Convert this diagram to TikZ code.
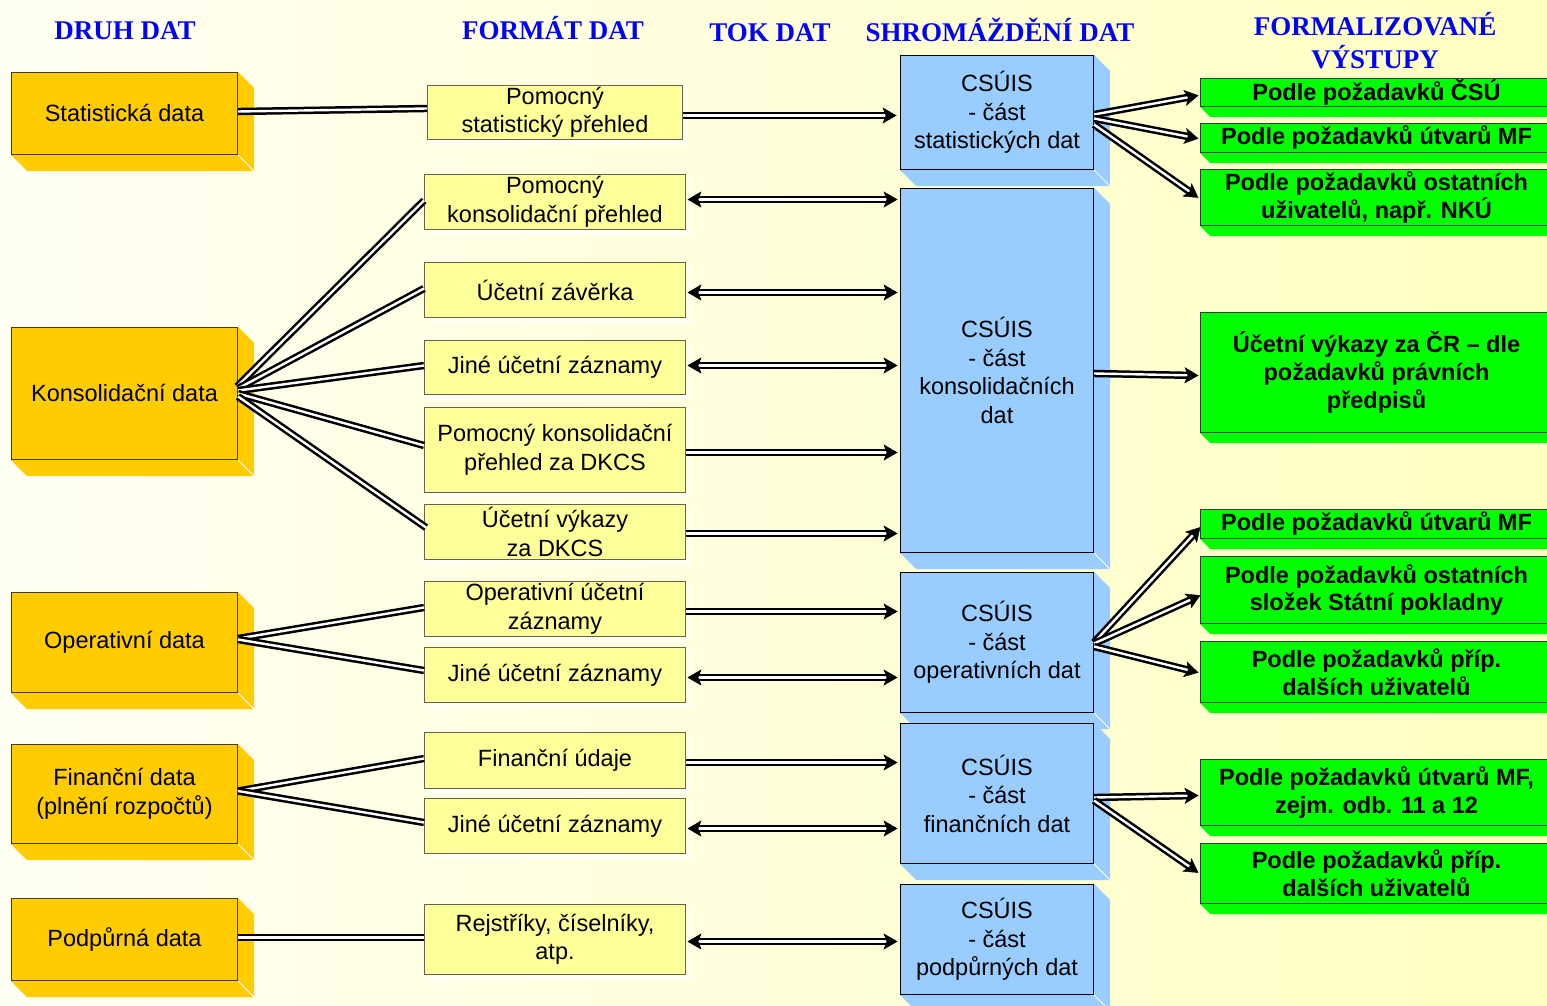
\documentclass[tikz,border=0pt]{standalone}
\usepackage{fontspec}
\setmainfont{Liberation Sans}
\newfontfamily\hdrfont{Liberation Serif}
\usetikzlibrary{calc}
\pgfdeclarelayer{bgl}
\pgfdeclarelayer{extl}
\pgfsetlayers{bgl,extl,main}
\definecolor{gold}{RGB}{255,204,0}
\definecolor{pale}{RGB}{255,255,153}
\definecolor{sky}{RGB}{153,204,255}
\definecolor{lime}{RGB}{0,255,0}
\definecolor{hblue}{RGB}{0,0,255}
\definecolor{bgL}{RGB}{255,255,243}
\definecolor{bgM}{RGB}{255,255,214}
\definecolor{bgR}{RGB}{255,255,194}
\definecolor{edgeG}{RGB}{70,60,20}
\definecolor{edgeP}{RGB}{100,100,80}
\definecolor{edgeL}{RGB}{40,70,40}
\tikzset{
 mybox/.style={line width=1pt, anchor=north west, inner sep=0pt, align=center, font=\fontsize{23.5}{28.5}\selectfont},
 goldbox/.style={mybox, draw=edgeG, fill=gold, minimum width=226pt},
 palebox/.style={mybox, draw=edgeP, fill=pale, minimum width=261pt},
 skybox/.style={mybox, draw=black, fill=sky, minimum width=193pt},
 limebox/.style={mybox, draw=edgeL, fill=lime, minimum width=352pt, font=\fontsize{23.5}{28}\selectfont\bfseries},
 hdr/.style={font=\hdrfont\bfseries\fontsize{27}{32}\selectfont, text=hblue, inner sep=0pt, anchor=base},
 dline/.style={draw=black, line width=2.5pt, double=white, double distance=2.4pt},
 headfill/.style={fill=black, draw=black, line width=0.5pt, line join=miter},
}
\newcommand\extrude[3]{%
 \begin{pgfonlayer}{extl}
 \fill[#3] (#1.north east) -- ++(#2,#2) -- ($(#1.south east)+(#2,#2)$) -- ($(#1.south west)+(#2,#2)$) -- (#1.south west) -- (#1.south east) -- cycle;
 \draw[white, line width=0.8pt] (#1.south east) -- ++(#2,#2);
 \end{pgfonlayer}}
\newcommand\groundshade[1]{%
 \begin{pgfonlayer}{extl}
 \fill[lime] (#1.south west) -- ++(10,10) -- ($(#1.south east)+(10,10)$) -- (#1.south east) -- cycle;
 \end{pgfonlayer}}
% arrow head with tip at #2, coming from #1
\newcommand\headat[2]{\path[headfill] (#2) -- ($(#2)!15pt!30:(#1)$) -- ($(#2)!10pt!(#1)$) -- ($(#2)!15pt!-30:(#1)$) -- cycle;}
\newcommand\uniarrow[2]{\draw[dline, shorten >=9pt] (#1) -- (#2); \headat{#1}{#2}}
\newcommand\biarrow[2]{\draw[dline, shorten >=9pt, shorten <=9pt] (#1) -- (#2); \headat{#1}{#2}\headat{#2}{#1}}
\begin{document}
\begin{tikzpicture}[x=1pt,y=-1pt]
\useasboundingbox (0,0) rectangle (1547,1006);
\clip (0,0) rectangle (1547,1006);
\begin{pgfonlayer}{bgl}
\shade[left color=bgL, middle color=bgM, right color=bgR] (0,0) rectangle (1547,1006);
\end{pgfonlayer}

% headers
\node[hdr] (h1) at (125,40) {DRUH DAT};
\node[hdr] (h2) at (553,40) {FORMÁT DAT};
\node[hdr] (h3) at (770,42) {TOK DAT};
\node[hdr] (h4) at (1000,42) {SHROMÁŽDĚNÍ DAT};
\node[hdr] (h5) at (1375,36) {FORMALIZOVANÉ};
\node[hdr] (h6) at (1375,69) {VÝSTUPY};

% gold boxes
\node[goldbox, minimum height=82pt] (g1) at (11,72) {\raisebox{2pt}{Statistická data}};
\node[goldbox, minimum height=132pt] (g2) at (11,327) {\raisebox{2pt}{Konsolidační data}};
\node[goldbox, minimum height=100pt] (g3) at (11,592) {Operativní data};
\node[goldbox, minimum height=99pt] (g4) at (11,744) {Finanční data\\(plnění rozpočtů)};
\node[goldbox, minimum height=82pt] (g5) at (11,898) {Podpůrná data};
\foreach \n in {g1,g2,g3,g4,g5} {\extrude{\n}{16}{gold}}

% pale boxes
\node[palebox, minimum width=255pt, minimum height=54pt] (y1) at (427,85) {Pomocný\\statistický přehled};
\node[palebox, minimum height=55pt] (y2) at (424,174) {Pomocný\\konsolidační přehled};
\node[palebox, minimum height=55pt] (y3) at (424,262) {Účetní závěrka};
\node[palebox, minimum height=54pt] (y4) at (424,340) {Jiné účetní záznamy};
\node[palebox, minimum height=85pt] (y5) at (424,407) {Pomocný konsolidační\\přehled za DKCS};
\node[palebox, minimum height=55pt] (y6) at (424,504) {Účetní výkazy\\za DKCS};
\node[palebox, minimum height=55pt] (y7) at (424,581) {Operativní účetní\\záznamy};
\node[palebox, minimum height=55pt] (y8) at (424,647) {Jiné účetní záznamy};
\node[palebox, minimum height=56pt] (y9) at (424,732) {Finanční údaje};
\node[palebox, minimum height=55pt] (y10) at (424,798) {Jiné účetní záznamy};
\node[palebox, minimum height=70pt] (y11) at (424,904) {Rejstříky, číselníky,\\atp.};
\foreach \n in {y1,y2,y3,y4,y5,y6,y7,y8,y9,y10,y11} {\extrude{\n}{5}{white, opacity=0.55}}

% sky boxes
\node[skybox, minimum height=114pt] (s1) at (900,55) {CSÚIS\\- část\\statistických dat};
\node[skybox, minimum height=364pt] (s2) at (900,188) {CSÚIS\\- část\\konsolidačních\\dat};
\node[skybox, minimum height=140pt] (s3) at (900,572) {CSÚIS\\- část\\operativních dat};
\node[skybox, minimum height=140pt] (s4) at (900,723) {CSÚIS\\- část\\finančních dat};
\node[skybox, minimum height=110pt] (s5) at (900,884) {CSÚIS\\- část\\podpůrných dat};
\foreach \n in {s1,s2,s3,s4,s5} {\extrude{\n}{16}{sky}}

% lime boxes
\node[limebox, minimum height=28pt] (e1) at (1200,78) {Podle požadavků ČSÚ};
\node[limebox, minimum height=29pt] (e2) at (1200,123) {Podle požadavků útvarů MF};
\node[limebox, minimum height=56pt] (e3) at (1200,169) {Podle požadavků ostatních\\uživatelů, např. NKÚ};
\node[limebox, minimum height=120pt] (e4) at (1200,312) {Účetní výkazy za ČR – dle\\požadavků právních\\předpisů};
\node[limebox, minimum height=29pt] (e5) at (1200,509) {Podle požadavků útvarů MF};
\node[limebox, minimum height=67pt] (e6) at (1200,556) {Podle požadavků ostatních\\složek Státní pokladny};
\node[limebox, minimum height=61pt] (e7) at (1200,641) {Podle požadavků příp.\\dalších uživatelů};
\node[limebox, minimum height=66pt] (e8) at (1200,759) {Podle požadavků útvarů MF,\\zejm. odb. 11 a 12};
\node[limebox, minimum height=60pt] (e9) at (1200,843) {Podle požadavků příp.\\dalších uživatelů};
\foreach \n in {e1,e2,e3,e4,e5,e6,e7,e8,e9} {\groundshade{\n}}

% data kind -> data format (plain double lines)
\draw[dline] ($(g1.east)+(0,-2)$) -- ($(y1.west)+(0,-4)$);
\draw[dline] ($(g2.east)+(-1,-7)$) -- ($(y2.west)+(0,-1.5)$);
\draw[dline] ($(g2.east)+(0,-5)$) -- ($(y3.west)+(0,-1.5)$);
\draw[dline] ($(g2.east)+(0,-3)$) -- ($(y4.west)+(0,-2)$);
\draw[dline] ($(g2.east)+(0,0)$) -- ($(y5.west)+(0,-4.5)$);
\draw[dline] ($(g2.east)+(0,3)$) -- ($(y6.west)+(2,-4.5)$);
\draw[dline] ($(g3.east)+(0,-4)$) -- ($(y7.west)+(0,-1.5)$);
\draw[dline] ($(g3.east)+(0,-3)$) -- ($(y8.west)+(0,-4.5)$);
\draw[dline] ($(g4.east)+(0,-3)$) -- ($(y9.west)+(0,-2)$);
\draw[dline] ($(g4.east)+(0,-3)$) -- ($(y10.west)+(0,-3.5)$);
\draw[dline] ($(g5.east)+(0,-2)$) -- ($(y11.west)+(0,-2)$);

% data format -> collection
\coordinate (p1) at ($(y1.east)+(0,3)$);      \coordinate (q1) at ($(s1.west|-y1.east)+(-4,3)$);
\coordinate (p2) at ($(y2.east)+(2,-2.5)$);   \coordinate (q2) at ($(s2.west|-y2.east)+(-3,-2.5)$);
\coordinate (p3) at ($(y3.east)+(2,2.5)$);    \coordinate (q3) at ($(s2.west|-y3.east)+(-3,2.5)$);
\coordinate (p4) at ($(y4.east)+(2,-2)$);     \coordinate (q4) at ($(s2.west|-y4.east)+(-3,-2)$);
\coordinate (p5) at ($(y5.east)+(0,2.5)$);    \coordinate (q5) at ($(s2.west|-y5.east)+(-3,2.5)$);
\coordinate (p6) at ($(y6.east)+(0,1.5)$);    \coordinate (q6) at ($(s2.west|-y6.east)+(-3,1.5)$);
\coordinate (p7) at ($(y7.east)+(0,2.5)$);    \coordinate (q7) at ($(s3.west|-y7.east)+(-3,2.5)$);
\coordinate (p8) at ($(y8.east)+(2,2.5)$);    \coordinate (q8) at ($(s3.west|-y8.east)+(-3,2.5)$);
\coordinate (p9) at ($(y9.east)+(0,2)$);      \coordinate (q9) at ($(s4.west|-y9.east)+(-3,2)$);
\coordinate (p10) at ($(y10.east)+(2,2.5)$);  \coordinate (q10) at ($(s4.west|-y10.east)+(-3,2.5)$);
\coordinate (p11) at ($(y11.east)+(2,2)$);    \coordinate (q11) at ($(s5.west|-y11.east)+(-3,2)$);
\uniarrow{p1}{q1}
\biarrow{p2}{q2}
\biarrow{p3}{q3}
\biarrow{p4}{q4}
\uniarrow{p5}{q5}
\uniarrow{p6}{q6}
\uniarrow{p7}{q7}
\biarrow{p8}{q8}
\uniarrow{p9}{q9}
\biarrow{p10}{q10}
\biarrow{p11}{q11}

% collection -> outputs
\coordinate (r1) at ($(s1.east)+(0,2)$);   \coordinate (t1) at ($(e1.west)+(-2,3)$);
\coordinate (r2) at ($(s1.east)+(0,6)$);   \coordinate (t2) at ($(e2.west)+(-2,0.5)$);
\coordinate (r3) at ($(s1.east)+(0,12)$);  \coordinate (t3) at ($(e3.west)+(-2,0)$);
\coordinate (r4) at ($(s2.east)+(0,3)$);   \coordinate (t4) at ($(e4.west)+(-2,3)$);
\coordinate (r5) at ($(s3.east)+(0,0)$);   \coordinate (t5) at ($(e5.west)+(0,3.5)$);
\coordinate (r6) at ($(s3.east)+(0,1)$);   \coordinate (t6) at ($(e6.west)+(0,5.5)$);
\coordinate (r7) at ($(s3.east)+(0,4)$);   \coordinate (t7) at ($(e7.west)+(-2,0.5)$);
\coordinate (r8) at ($(s4.east)+(0,4)$);   \coordinate (t8) at ($(e8.west)+(-2,3)$);
\coordinate (r9) at ($(s4.east)+(0,7)$);   \coordinate (t9) at ($(e9.west)+(-2,-1)$);
\foreach \i in {1,...,9} {\uniarrow{r\i}{t\i}}
\end{tikzpicture}
\end{document}
